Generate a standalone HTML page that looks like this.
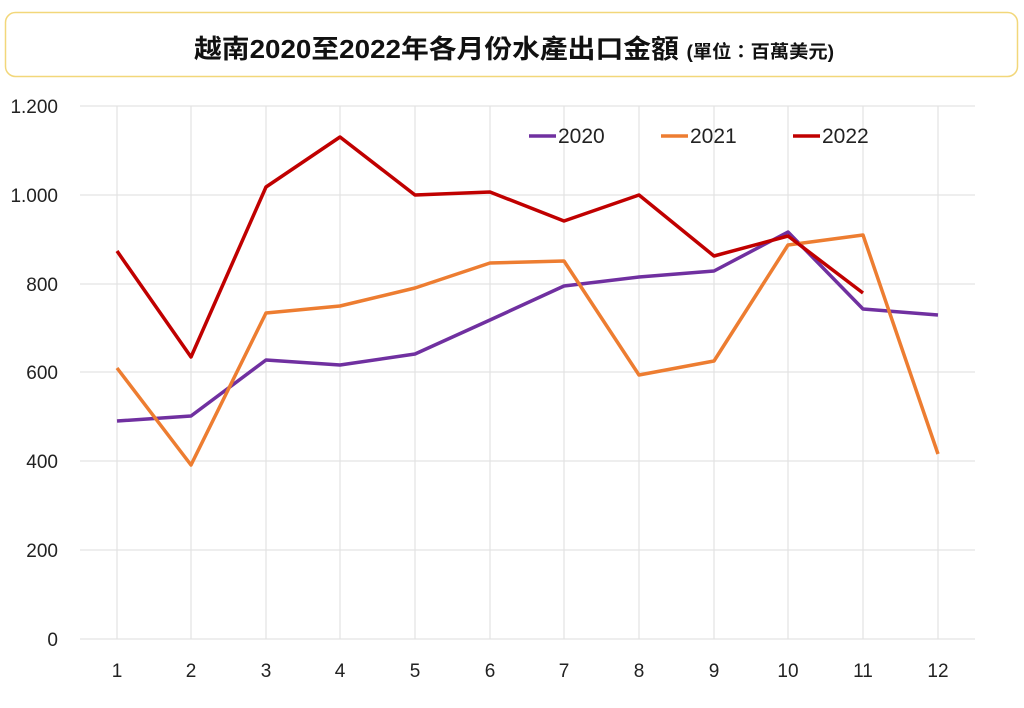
<!DOCTYPE html>
<html><head><meta charset="utf-8"><style>
body{margin:0;background:#fff;width:1024px;height:703px;overflow:hidden}
</style></head><body>
<svg width="1024" height="703" xmlns="http://www.w3.org/2000/svg" font-family="'Liberation Sans','Noto Sans CJK TC',sans-serif">
<rect x="5.5" y="12.5" width="1012" height="64" rx="10" fill="#fff" stroke="#f2d77a" stroke-width="1.5"/>
<text x="514" y="58" text-anchor="middle" font-size="26" font-weight="bold" fill="#111" textLength="640" lengthAdjust="spacingAndGlyphs">越南2020至2022年各月份水產出口金額 <tspan font-size="18">(單位：百萬美元)</tspan></text>
<g stroke="#e3e3e3" stroke-width="1.2">
<line x1="80" y1="106" x2="975" y2="106"/><line x1="80" y1="195" x2="975" y2="195"/>
<line x1="80" y1="284" x2="975" y2="284"/><line x1="80" y1="372" x2="975" y2="372"/>
<line x1="80" y1="461" x2="975" y2="461"/><line x1="80" y1="550" x2="975" y2="550"/>
<line x1="80" y1="639" x2="975" y2="639"/>
<line x1="117" y1="106" x2="117" y2="639"/><line x1="191" y1="106" x2="191" y2="639"/>
<line x1="266" y1="106" x2="266" y2="639"/><line x1="340" y1="106" x2="340" y2="639"/>
<line x1="415" y1="106" x2="415" y2="639"/><line x1="490" y1="106" x2="490" y2="639"/>
<line x1="564" y1="106" x2="564" y2="639"/><line x1="639" y1="106" x2="639" y2="639"/>
<line x1="714" y1="106" x2="714" y2="639"/><line x1="788" y1="106" x2="788" y2="639"/>
<line x1="863" y1="106" x2="863" y2="639"/><line x1="938" y1="106" x2="938" y2="639"/>
</g>
<g font-size="19" fill="#222" text-anchor="end">
<text x="58" y="113">1.200</text><text x="58" y="202">1.000</text><text x="58" y="291">800</text>
<text x="58" y="379">600</text><text x="58" y="468">400</text><text x="58" y="557">200</text><text x="58" y="646">0</text>
</g>
<g font-size="19" fill="#222" text-anchor="middle">
<text x="117" y="677">1</text><text x="191" y="677">2</text><text x="266" y="677">3</text><text x="340" y="677">4</text>
<text x="415" y="677">5</text><text x="490" y="677">6</text><text x="564" y="677">7</text><text x="639" y="677">8</text>
<text x="714" y="677">9</text><text x="788" y="677">10</text><text x="863" y="677">11</text><text x="938" y="677">12</text>
</g>
<g fill="none" stroke-width="3.5" stroke-linejoin="round">
<polyline stroke="#7030a0" points="117,421 191,416 266,360 340,365 415,354 490,320 564,286 639,277 714,271 788,232 863,309 938,315"/>
<polyline stroke="#ed7d31" points="117,368 191,465 266,313 340,306 415,288 490,263 564,261 639,375 714,361 788,245 863,235 938,454"/>
<polyline stroke="#c00000" points="117,251 191,357 266,187 340,137 415,195 490,192 564,221 639,195 714,256 788,236 863,293"/>
</g>
<g stroke-width="3.5">
<line x1="529" y1="136" x2="556" y2="136" stroke="#7030a0"/>
<line x1="661" y1="136" x2="688" y2="136" stroke="#ed7d31"/>
<line x1="793" y1="136" x2="820" y2="136" stroke="#c00000"/>
</g>
<g font-size="21" fill="#222">
<text x="558" y="143">2020</text><text x="690" y="143">2021</text><text x="822" y="143">2022</text>
</g>
</svg>
</body></html>
